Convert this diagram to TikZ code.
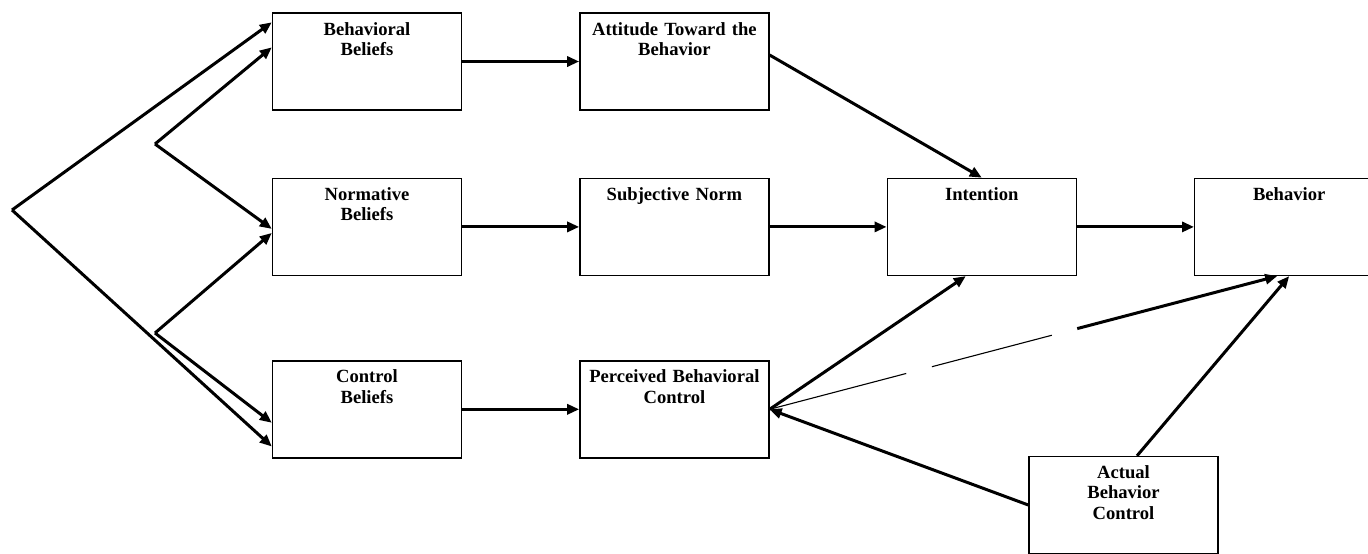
\documentclass[tikz,border=0pt]{standalone}
\usepackage{fontspec}
\setmainfont{Liberation Serif}
\usetikzlibrary{arrows.meta, positioning, calc}
\tikzset{
  tra box/.style={
    rectangle, draw=black, line width=0.7pt, fill=white,
    minimum width=94.5pt, minimum height=48.5pt,
    text width=90pt, align=center,
    text height=6.5pt, text depth=33pt,
    inner xsep=2pt, inner ysep=4.5pt,
    font=\bfseries\fontsize{9.3}{10.2}\selectfont
  },
  tra arrow/.style={
    -{Triangle[length=6pt,width=5pt]}, line width=1.5pt, draw=black
  },
  tra link/.style={
    line width=0.55pt, draw=black
  }
}

\begin{document}
\begin{tikzpicture}[x=0.5pt, y=-0.5pt, node distance=33.5pt and 58.5pt]
  \useasboundingbox (0,0) rectangle (1368,553);
  \clip (0,0) rectangle (1368,553);

  % belief column
  \node (bb) [tra box] at (367,61.5) {Behavioral\\Beliefs};
  \node (nb) [tra box, below=of bb] {Normative\\Beliefs};
  \node (cb) [tra box, below=42pt of nb] {Control\\Beliefs};

  % constructs
  \node (att) [tra box, right=of bb] {Attitude Toward the\\Behavior};
  \node (sn)  [tra box, right=of nb] {Subjective Norm};
  \node (pbc) [tra box, right=of cb] {Perceived Behavioral\\Control};
  \node (int) [tra box, right=of sn] {Intention};
  \node (beh) [tra box, right=of int] {Behavior};
  \node (abc) [tra box] at (1123.5,505) {Actual\\Behavior\\Control};

  % forks on the left
  \coordinate (fork)    at (12,210);
  \coordinate (forkup)  at (155,144);
  \coordinate (forklow) at (155,333);

  \draw [tra arrow] (fork) -- ([yshift=-5pt]bb.north west);
  \draw [tra arrow] (fork) -- ([yshift=6pt]cb.south west);
  \draw [tra arrow] (forkup) -- ([yshift=-17.5pt]bb.north west);
  \draw [tra arrow] (forkup) -- ([yshift=-1pt]nb.west);
  \draw [tra arrow] (forklow) -- ([yshift=-3pt]nb.west);
  \draw [tra arrow] (forklow) -- ([yshift=-6.75pt]cb.west);

  \draw [tra arrow] (bb) -- (att);
  \draw [tra arrow] (nb) -- (sn);
  \draw [tra arrow] (cb) -- (pbc);
  \draw [tra arrow] (sn) -- (int);
  \draw [tra arrow] (int) -- (beh);
  \draw [tra arrow] ([yshift=3.25pt]att.east) -- (int.north);
  \draw [tra arrow] (pbc.east) -- ([xshift=-8pt]int.south);
  \draw [tra arrow] (abc.west) -- (pbc.east);
  \draw [tra arrow] ([xshift=6.75pt]abc.north) -- (beh.south);

  % broken line from perceived control to behavior
  \coordinate (brk) at ($(pbc.east)!0.606!([xshift=-6pt]beh.south)$);
  \draw [tra link, dash pattern=on 70.6pt off 13.3pt on 62pt off 40pt] (pbc.east) -- (brk);
  \draw [tra arrow] (brk) -- ([xshift=-6pt]beh.south);
\end{tikzpicture}
\end{document}
